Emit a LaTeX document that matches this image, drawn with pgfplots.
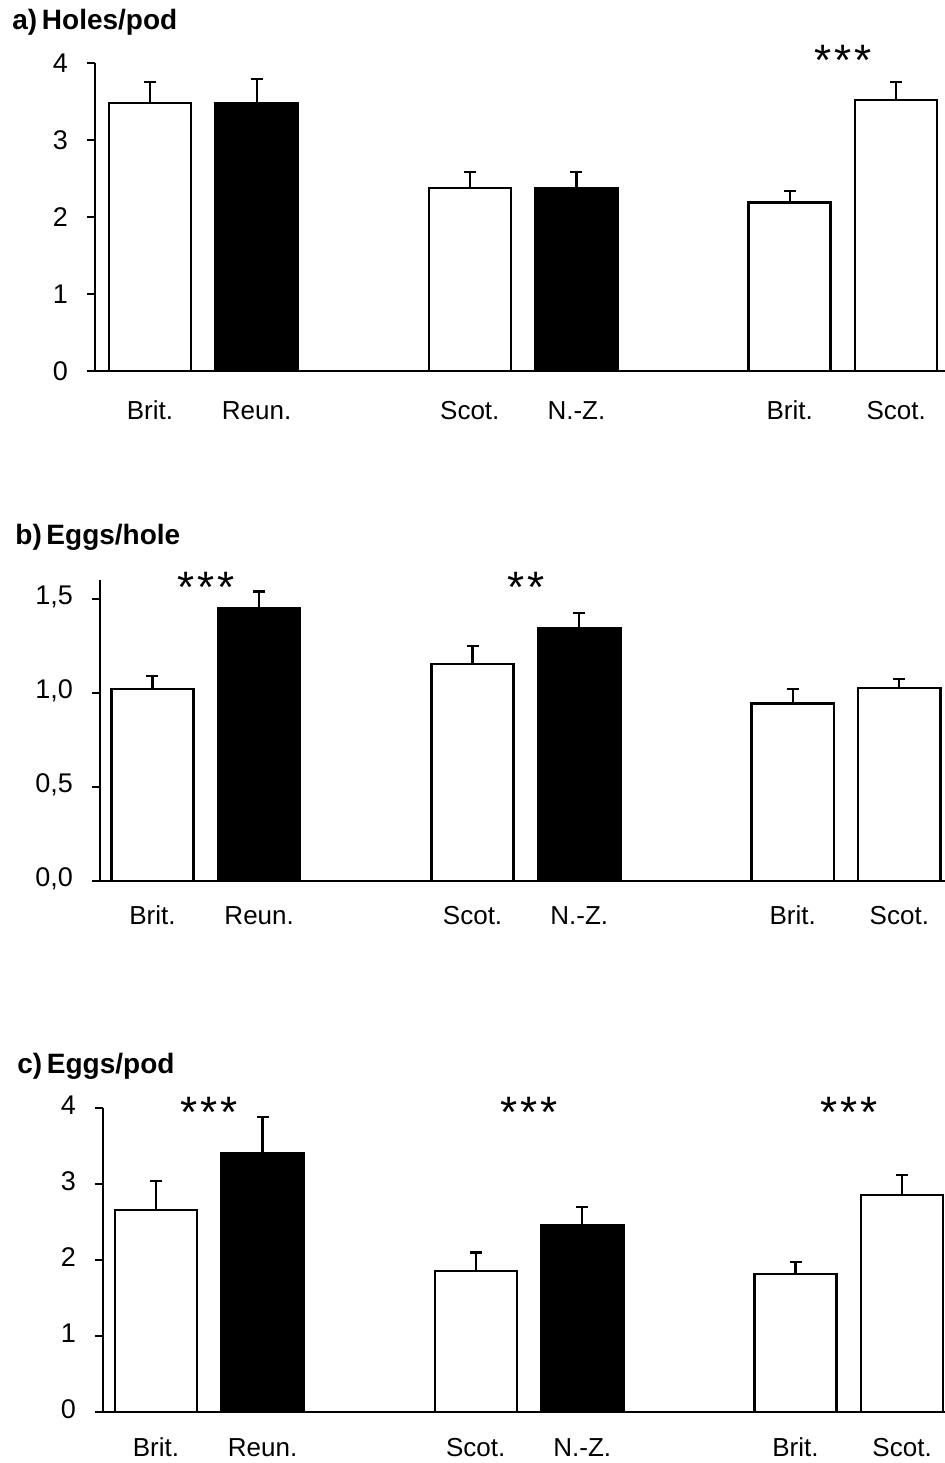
\documentclass[border=0pt]{standalone}
\usepackage{fontspec}
\setmainfont{Liberation Sans}
\usepackage{pgfplots}
\usepackage{pgfplotstable}
\pgfplotsset{compat=1.18}

% a) holes/pod
\pgfplotstableread{
x y e
1 3.48 0.27
4 2.38 0.20
7 2.19 0.15
8 3.52 0.23
}\aWhite
\pgfplotstableread{
x y e
2 3.48 0.31
5 2.38 0.20
}\aBlack
% b) eggs/hole
\pgfplotstableread{
x y e
1 1.02 0.07
4 1.155 0.095
7 0.945 0.075
8 1.025 0.05
}\bWhite
\pgfplotstableread{
x y e
2 1.45 0.09
5 1.345 0.08
}\bBlack
% c) eggs/pod
\pgfplotstableread{
x y e
1 2.66 0.38
4 1.855 0.245
7 1.815 0.155
8 2.855 0.265
}\cWhite
\pgfplotstableread{
x y e
2 3.41 0.47
5 2.46 0.24
}\cBlack

\pgfplotsset{
  panel/.style={
    scale only axis, clip=false, anchor=south west,
    axis x line*=bottom, axis y line*=left,
    axis line style={line width=1.2pt, -},
    ybar, bar shift=0pt, bar width=0.77,
    ymin=0,
    xtick={1,2,4,5,7,8},
    xticklabels={Brit.,Reun.,Scot.,N.-Z.,Brit.,Scot.},
    x tick style={draw=none},
    y tick style={line width=1pt, black},
    tick align=outside, major tick length=4pt,
    typeset ticklabels with strut,
    y tick label style={font=\fontsize{13.5}{15}\selectfont, xshift=-6pt},
    x tick label style={font=\fontsize{13}{15}\selectfont},
    /pgf/number format/assume math mode=true,
  },
  white bar/.style={fill=white, draw=black, line width=1.2pt,
    error bars/.cd, y dir=plus, y explicit,
    error bar style={line width=1.1pt, black},
    error mark options={rotate=90, mark size=3pt, line width=1.1pt, black}},
  black bar/.style={fill=black, draw=black, line width=1.2pt,
    error bars/.cd, y dir=plus, y explicit,
    error bar style={line width=1.1pt, black},
    error mark options={rotate=90, mark size=3pt, line width=1.1pt, black}},
}
\tikzset{stars/.style={anchor=base, inner sep=0pt, font=\fontsize{22}{22}\selectfont}}
\newcommand{\three}{*\hspace{1.5pt}*\hspace{1.5pt}*}

\begin{document}
\begin{tikzpicture}

%%% a) Holes/pod
\begin{axis}[panel, at={(47.5pt,546pt)}, width=426.2pt, height=154pt,
  xmin=0.484, xmax=8.48, ymax=4, ytick={0,1,2,3,4},
  y tick label style={yshift=-2pt},
  x tick label style={yshift=-6pt}]
\addplot[white bar] table[x=x, y=y, y error=e] {\aWhite};
\addplot[black bar] table[x=x, y=y, y error=e] {\aBlack};
\node[stars] at (axis cs:7.5,3.835) {\three};
\end{axis}

%%% b) Eggs/hole
\begin{axis}[panel, at={(50pt,291pt)}, width=423pt, height=150.4pt,
  xmin=0.508, xmax=8.437, ymax=1.6, ytick={0,0.5,1,1.5},
  yticklabel style={/pgf/number format/.cd, fixed, fixed zerofill, precision=1, use comma},
  x tick label style={yshift=-3.5pt}]
\addplot[white bar] table[x=x, y=y, y error=e] {\bWhite};
\addplot[black bar] table[x=x, y=y, y error=e] {\bBlack};
\node[stars] at (axis cs:1.5,1.482) {\three};
\node[stars] at (axis cs:4.5,1.482) {*\hspace{1.5pt}*};
\end{axis}

%%% c) Eggs/pod
\begin{axis}[panel, at={(51.5pt,25.5pt)}, width=421.4pt, height=152pt,
  xmin=0.503, xmax=8.41, ymax=4, ytick={0,1,2,3,4},
  x tick label style={yshift=-4pt}]
\addplot[white bar] table[x=x, y=y, y error=e] {\cWhite};
\addplot[black bar] table[x=x, y=y, y error=e] {\cBlack};
\node[stars] at (axis cs:1.5,3.745) {\three};
\node[stars] at (axis cs:4.5,3.745) {\three};
\node[stars] at (axis cs:7.5,3.745) {\three};
\end{axis}

% panel titles
\node[anchor=west, inner sep=0pt, font=\bfseries\fontsize{14}{16}\selectfont] at (6pt,720.5pt) {a)\,Holes/pod};
\node[anchor=west, inner sep=0pt, font=\bfseries\fontsize{14}{16}\selectfont] at (7.5pt,463pt) {b)\,Eggs/hole};
\node[anchor=west, inner sep=0pt, font=\bfseries\fontsize{14}{16}\selectfont] at (8.5pt,198.5pt) {c)\,Eggs/pod};

\pgfresetboundingbox
\path[use as bounding box] (0,0) rectangle (472pt,731.5pt);
\end{tikzpicture}
\end{document}
